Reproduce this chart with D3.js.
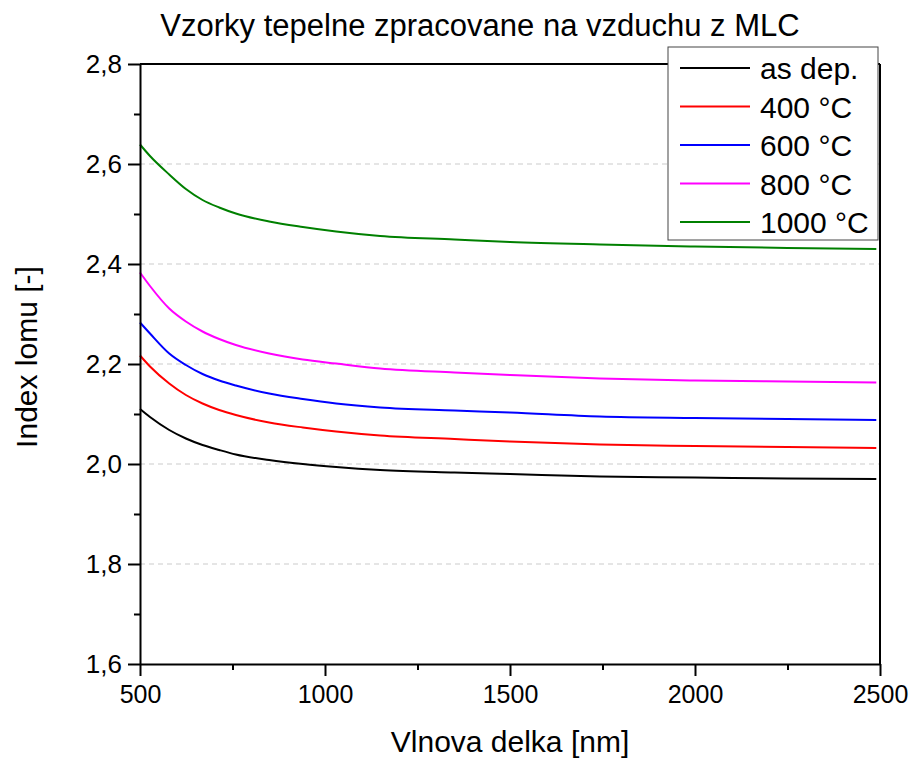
<!DOCTYPE html>
<html>
<head>
<meta charset="utf-8">
<script src="https://cdn.jsdelivr.net/npm/d3@7"></script>
<style>
  html, body { margin: 0; padding: 0; background: #fff; }
  svg { display: block; font-family: "Liberation Sans", Arial, Helvetica, sans-serif; }
</style>
</head>
<body>
<svg id="chart" width="916" height="762"></svg>
<script>
// Wavelength samples [nm]
const wavelengths = [500, 527, 579, 624, 669, 714, 759, 849, 940, 1030, 1149, 1350, 1500, 1743, 2000, 2250, 2490];

// Refractive index per annealing state
const asDep = [2.110, 2.094, 2.068, 2.051, 2.038, 2.028, 2.019, 2.008, 2.000, 1.994, 1.988, 1.983, 1.980, 1.975, 1.973, 1.971, 1.970];
const t400  = [2.217, 2.195, 2.161, 2.138, 2.121, 2.108, 2.098, 2.083, 2.073, 2.065, 2.057, 2.050, 2.045, 2.039, 2.036, 2.034, 2.032];
const t600  = [2.283, 2.261, 2.221, 2.198, 2.180, 2.167, 2.157, 2.141, 2.130, 2.121, 2.113, 2.107, 2.103, 2.095, 2.092, 2.090, 2.088];
const t800  = [2.383, 2.356, 2.311, 2.285, 2.265, 2.250, 2.238, 2.221, 2.209, 2.201, 2.191, 2.183, 2.178, 2.171, 2.167, 2.165, 2.163];
const t1000 = [2.639, 2.616, 2.579, 2.550, 2.528, 2.513, 2.501, 2.485, 2.474, 2.465, 2.456, 2.449, 2.444, 2.439, 2.435, 2.432, 2.430];

const seriesNames  = ["as dep.", "400 °C", "600 °C", "800 °C", "1000 °C"];
const seriesValues = [asDep, t400, t600, t800, t1000];
const seriesColors = ["#000000", "#ff0000", "#0000ff", "#ff00ff", "#008000"];

const xTicks = [500, 1000, 1500, 2000, 2500];
const xMinorTicks = [750, 1250, 1750, 2250];
const yTicks = [1.6, 1.8, 2.0, 2.2, 2.4, 2.6, 2.8];
const yMinorTicks = [1.7, 1.9, 2.1, 2.3, 2.5, 2.7];
const gridValues = [1.8, 2.0, 2.2, 2.4, 2.6];

const titleText = "Vzorky tepelne zpracovane na vzduchu z MLC";
const xTitle = "Vlnova delka [nm]";
const yTitle = "Index lomu [-]";

const svg = d3.select("#chart");
const L = 140, R = 880, T = 64, B = 664;

const x = d3.scaleLinear().domain([500, 2500]).range([L, R]);
const y = d3.scaleLinear().domain([1.6, 2.8]).range([B, T]);
const fmt = d => d3.format(".1f")(d).replace(".", ",");

// dashed horizontal grid
svg.append("g").selectAll("line").data(gridValues).join("line")
  .attr("x1", L).attr("x2", R)
  .attr("y1", d => y(d)).attr("y2", d => y(d))
  .attr("stroke", "#cccccc").attr("stroke-width", 1.2)
  .attr("stroke-dasharray", "5,4");

// dispersion curves
const line = d3.line().x(d => x(d[0])).y(d => y(d[1])).curve(d3.curveMonotoneX);
seriesValues.forEach((vals, i) => {
  svg.append("path")
    .datum(wavelengths.map((w, j) => [w, vals[j]]))
    .attr("d", line)
    .attr("fill", "none")
    .attr("stroke", seriesColors[i])
    .attr("stroke-width", 2);
});

// frame: top and right borders
svg.append("line").attr("x1", L).attr("x2", R).attr("y1", T).attr("y2", T)
  .attr("stroke", "#000").attr("stroke-width", 2);
svg.append("line").attr("x1", R).attr("x2", R).attr("y1", T).attr("y2", B)
  .attr("stroke", "#000").attr("stroke-width", 2);

// bottom axis
const xAxis = svg.append("g").attr("transform", `translate(0,${B})`)
  .call(d3.axisBottom(x).tickValues(xTicks).tickSize(12).tickSizeOuter(0).tickPadding(9)
    .tickFormat(d3.format("d")));
xAxis.selectAll(".domain").attr("stroke-width", 2);
xAxis.selectAll(".tick line").attr("stroke-width", 2);
xAxis.selectAll("text").attr("font-size", 25).attr("font-family", "Liberation Sans, Arial, sans-serif").attr("fill", "#000");

svg.append("g").attr("transform", `translate(0,${B})`)
  .call(d3.axisBottom(x).tickValues(xMinorTicks).tickSize(6).tickSizeOuter(0).tickFormat(""))
  .call(g => g.select(".domain").remove())
  .selectAll(".tick line").attr("stroke-width", 2);

// left axis
const yAxis = svg.append("g").attr("transform", `translate(${L},0)`)
  .call(d3.axisLeft(y).tickValues(yTicks).tickSize(12).tickSizeOuter(0).tickPadding(6)
    .tickFormat(fmt));
yAxis.selectAll(".domain").attr("stroke-width", 2);
yAxis.selectAll(".tick line").attr("stroke-width", 2);
yAxis.selectAll("text").attr("font-size", 26).attr("font-family", "Liberation Sans, Arial, sans-serif").attr("fill", "#000");

svg.append("g").attr("transform", `translate(${L},0)`)
  .call(d3.axisLeft(y).tickValues(yMinorTicks).tickSize(6).tickSizeOuter(0).tickFormat(""))
  .call(g => g.select(".domain").remove())
  .selectAll(".tick line").attr("stroke-width", 2);

// titles
svg.append("text").attr("x", 480).attr("y", 36).attr("text-anchor", "middle")
  .attr("font-size", 31).attr("fill", "#000").text(titleText);
svg.append("text").attr("x", (L + R) / 2).attr("y", 752).attr("text-anchor", "middle")
  .attr("font-size", 30).attr("fill", "#000").text(xTitle);
svg.append("text").attr("transform", `translate(37,357) rotate(-90)`).attr("text-anchor", "middle")
  .attr("font-size", 30).attr("fill", "#000").text(yTitle);

// legend
const lg = svg.append("g");
lg.append("rect").attr("x", 668).attr("y", 47).attr("width", 210).attr("height", 193)
  .attr("fill", "#fff").attr("stroke", "#444").attr("stroke-width", 1);
seriesNames.forEach((name, i) => {
  const cy = 68 + i * 38.5;
  lg.append("line").attr("x1", 680).attr("x2", 750).attr("y1", cy).attr("y2", cy)
    .attr("stroke", seriesColors[i]).attr("stroke-width", 2);
  lg.append("text").attr("x", 760).attr("y", cy + 11).attr("font-size", 30)
    .attr("fill", "#000").text(name);
});
</script>
</body>
</html>
